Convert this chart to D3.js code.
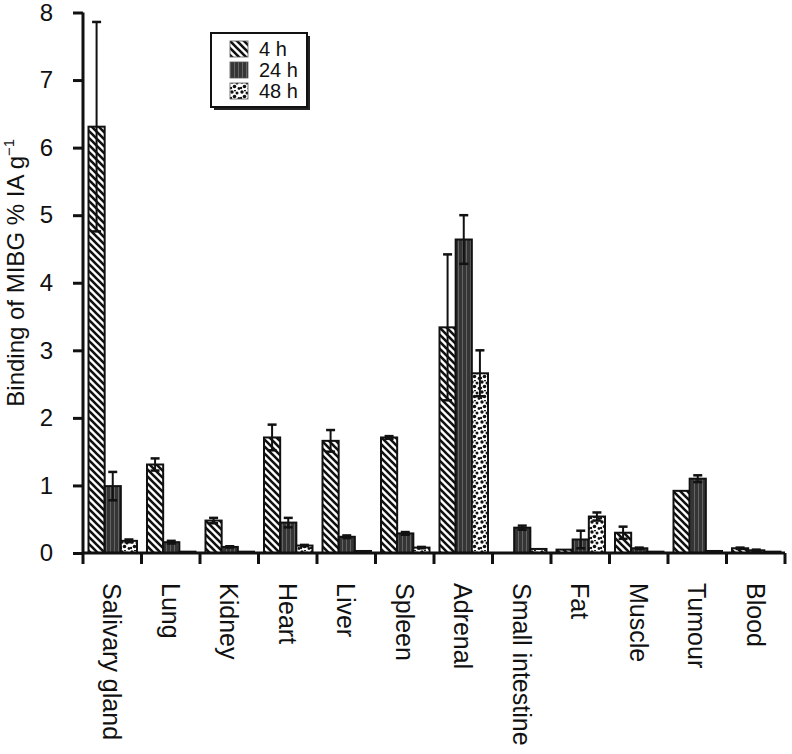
<!DOCTYPE html>
<html>
<head>
<meta charset="utf-8">
<script src="https://cdn.jsdelivr.net/npm/d3@7"></script>
<style>
  html, body { margin: 0; padding: 0; background: #fff; }
  svg { display: block; font-family: "Liberation Sans", Arial, Helvetica, sans-serif; }
</style>
</head>
<body>
<svg id="chart" width="792" height="754"></svg>
<script>
const categories = ["Salivary gland", "Lung", "Kidney", "Heart", "Liver", "Spleen", "Adrenal", "Small intestine", "Fat", "Muscle", "Tumour", "Blood"];
const seriesNames = ["4 h", "24 h", "48 h"];
const values4h  = [6.31, 1.31, 0.48, 1.71, 1.66, 1.71, 3.34, 0.00, 0.05, 0.30, 0.92, 0.07];
const errors4h  = [1.55, 0.09, 0.04, 0.19, 0.16, 0.02, 1.08, 0.00, 0.00, 0.09, 0.00, 0.01];
const values24h = [0.99, 0.16, 0.09, 0.45, 0.24, 0.29, 4.64, 0.375, 0.20, 0.07, 1.10, 0.04];
const errors24h = [0.21, 0.02, 0.01, 0.07, 0.02, 0.02, 0.36, 0.03, 0.13, 0.01, 0.05, 0.01];
const values48h = [0.18, 0.02, 0.02, 0.11, 0.03, 0.08, 2.66, 0.06, 0.54, 0.02, 0.03, 0.02];
const errors48h = [0.02, 0.00, 0.00, 0.01, 0.00, 0.01, 0.34, 0.00, 0.06, 0.00, 0.00, 0.00];
const yTicks = [0, 1, 2, 3, 4, 5, 6, 7, 8];
const yTitle = "Binding of MIBG % IA g";

const svg = d3.select("#chart");
const defs = svg.append("defs");

// 4 h: diagonal hatch
const p1 = defs.append("pattern").attr("id", "pat4").attr("patternUnits", "userSpaceOnUse")
  .attr("width", 7).attr("height", 7);
p1.append("rect").attr("width", 7).attr("height", 7).attr("fill", "#fff");
p1.append("path").attr("d", "M-1,-1 L8,8 M-4.5,2.5 L2.5,9.5 M2.5,-4.5 L9.5,2.5")
  .attr("stroke", "#111").attr("stroke-width", 2.6);
// 24 h: dark grey with faint vertical stripes
const p2 = defs.append("pattern").attr("id", "pat24").attr("patternUnits", "userSpaceOnUse")
  .attr("width", 4).attr("height", 4);
p2.append("rect").attr("width", 4).attr("height", 4).attr("fill", "#353535");
p2.append("rect").attr("x", 2).attr("width", 1).attr("height", 4).attr("fill", "#646464");
// 48 h: white with black blobs
const p3 = defs.append("pattern").attr("id", "pat48").attr("patternUnits", "userSpaceOnUse")
  .attr("width", 10).attr("height", 10);
p3.append("rect").attr("width", 10).attr("height", 10).attr("fill", "#fff");
[[2, 2, 1.7], [7, 3, 1.5], [4.5, 6.5, 1.8], [9, 8.5, 1.4], [1, 8, 1.2], [5, 0.5, 1.0]].forEach(c =>
  p3.append("circle").attr("cx", c[0]).attr("cy", c[1]).attr("r", c[2]).attr("fill", "#111"));

const fills = ["url(#pat4)", "url(#pat24)", "url(#pat48)"];
const seriesVals = [values4h, values24h, values48h];
const seriesErrs = [errors4h, errors24h, errors48h];

const x0 = d3.scaleBand().domain(categories).range([83, 785]).padding(0);
const x1 = d3.scaleBand().domain(seriesNames).range([5.5, 54]).padding(0);
const y = d3.scaleLinear().domain([0, 8]).range([553, 12.5]);

const data = [];
categories.forEach((c, i) => seriesNames.forEach((s, j) => {
  data.push({ cat: c, ser: s, j: j, v: seriesVals[j][i], e: seriesErrs[j][i] });
}));

// bars
svg.append("g").selectAll("rect").data(data.filter(d => d.v > 0)).join("rect")
  .attr("x", d => x0(d.cat) + x1(d.ser))
  .attr("y", d => y(d.v))
  .attr("width", x1.bandwidth())
  .attr("height", d => y(0) - y(d.v))
  .attr("fill", d => fills[d.j])
  .attr("stroke", "#111").attr("stroke-width", 2);

// error bars
const eg = svg.append("g").attr("stroke", "#111").attr("stroke-width", 2);
data.filter(d => d.e > 0.005 && d.v > 0).forEach(d => {
  const cx = x0(d.cat) + x1(d.ser) + x1.bandwidth() / 2;
  const top = y(d.v + d.e), bot = y(Math.max(0, d.v - d.e));
  eg.append("line").attr("x1", cx).attr("x2", cx).attr("y1", top).attr("y2", bot);
  eg.append("line").attr("x1", cx - 4.5).attr("x2", cx + 4.5).attr("y1", top).attr("y2", top).attr("stroke-width", 2.5);
  eg.append("line").attr("x1", cx - 4.5).attr("x2", cx + 4.5).attr("y1", bot).attr("y2", bot).attr("stroke-width", 2.5);
});

// y axis
const yAxis = svg.append("g").attr("transform", "translate(83,0)")
  .call(d3.axisLeft(y).tickValues(yTicks).tickFormat(d3.format("d")).tickSize(10).tickPadding(20));
yAxis.select(".domain").attr("d", `M0,${y(8)}V${y(0)}`).attr("stroke", "#111").attr("stroke-width", 3);
yAxis.selectAll(".tick line").attr("stroke", "#111").attr("stroke-width", 3);
yAxis.selectAll(".tick text").attr("font-size", 24).attr("fill", "#111")
  .attr("font-family", "'Liberation Sans', Arial, sans-serif");

// x axis
const xAxis = svg.append("g").attr("transform", `translate(0,${y(0)})`)
  .call(d3.axisBottom(x0).tickSize(0).tickFormat(""));
xAxis.select(".domain").attr("d", `M83,0H785`).attr("stroke", "#111").attr("stroke-width", 3);
const bounds = categories.map(c => x0(c)).concat([x0.range()[1]]);
xAxis.selectAll(".bound").data(bounds).join("line").attr("class", "bound")
  .attr("x1", d => d).attr("x2", d => d).attr("y1", 0).attr("y2", 11)
  .attr("stroke", "#111").attr("stroke-width", 3);
xAxis.selectAll(".clabel").data(categories).join("text").attr("class", "clabel")
  .attr("transform", d => `translate(${x0(d) + x0.bandwidth() / 2},30) rotate(90)`)
  .attr("text-anchor", "start").attr("dominant-baseline", "central")
  .attr("font-size", 25).attr("fill", "#111")
  .text(d => d);

// y title
const t = svg.append("text")
  .attr("transform", `translate(24,${(y(0) + y(8)) / 2 - 10}) rotate(-90)`)
  .attr("text-anchor", "middle").attr("font-size", 24).attr("fill", "#111");
t.append("tspan").text(yTitle);
t.append("tspan").attr("dy", -10).attr("font-size", 15).text("−1");

// legend
const lg = svg.append("g");
lg.append("rect").attr("x", 214).attr("y", 36).attr("width", 96).attr("height", 74).attr("fill", "#222");
lg.append("rect").attr("x", 211).attr("y", 33).attr("width", 96).attr("height", 74)
  .attr("fill", "#fff").attr("stroke", "#111").attr("stroke-width", 2);
seriesNames.forEach((s, j) => {
  const ty = 41 + j * 21;
  lg.append("rect").attr("x", 230).attr("y", ty).attr("width", 18).attr("height", 16)
    .attr("fill", fills[j]).attr("stroke", "#555").attr("stroke-width", 0.8);
  lg.append("text").attr("x", 259).attr("y", ty + 15).attr("font-size", 20).attr("fill", "#111").text(s);
});
</script>
</body>
</html>
